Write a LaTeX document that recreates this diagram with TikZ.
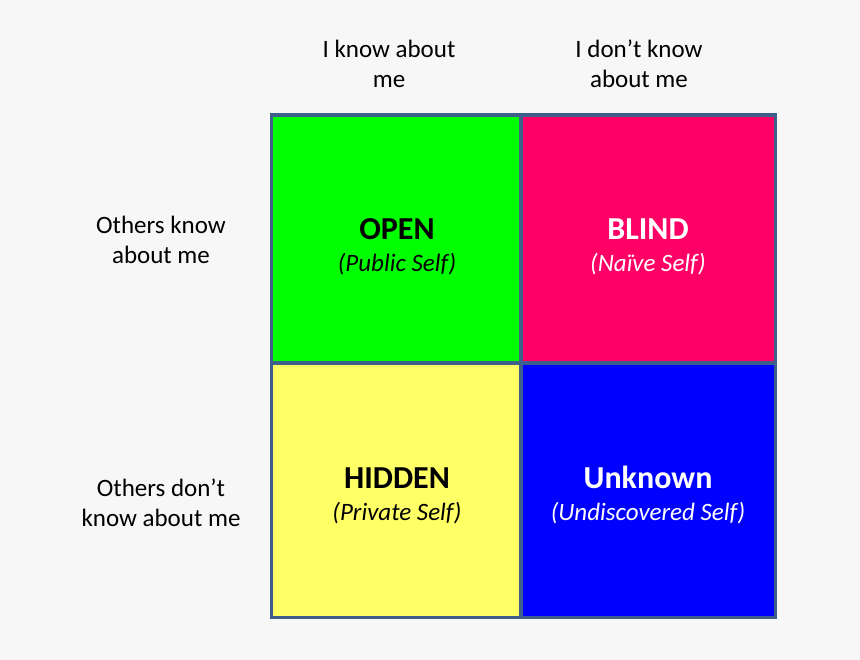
\documentclass[tikz,border=0pt]{standalone}
\usepackage{fontspec}
\setmainfont{Carlito}
\definecolor{bg}{HTML}{F7F7F7}
\definecolor{frame}{HTML}{3D5F8A}
\definecolor{cgreen}{HTML}{00FF00}
\definecolor{cpink}{HTML}{FF0066}
\definecolor{cyellow}{HTML}{FFFF66}
\definecolor{cblue}{HTML}{0000FF}
\begin{document}
\begin{tikzpicture}[x=1pt,y=-1pt,
  cell/.style={draw=frame,line width=3.5pt},
  lbl/.style={align=center,anchor=base,font=\fontsize{25}{30}\selectfont,text=black,inner sep=0pt},
  ttl/.style={anchor=base,font=\fontsize{32}{38}\selectfont\bfseries,inner sep=0pt},
  sub/.style={anchor=base,font=\fontsize{25}{30}\selectfont\itshape,inner sep=0pt}]
\useasboundingbox (0,0) rectangle (860,660);
\fill[bg] (0,0) rectangle (860,660);
% cells
\fill[cgreen] (271.5,115) rectangle (521,363);
\fill[cpink] (521,115) rectangle (775.7,363);
\fill[cyellow] (271.5,363) rectangle (521,617.7);
\fill[cblue] (521,363) rectangle (775.7,617.7);
\draw[cell] (271.5,115) rectangle (775.7,617.7);
\draw[cell] (521,115) -- (521,617.7);
\draw[cell] (271.5,363) -- (775.7,363);
% titles
\node[ttl] (open) at (397,240) {OPEN};
\node[sub] (opens) at (397,272) {(Public Self)};
\node[ttl,text=white] (blind) at (648,240) {BLIND};
\node[sub,text=white] (blinds) at (648,272) {(Naïve Self)};
\node[ttl] (hidden) at (397,488) {HIDDEN};
\node[sub] (hiddens) at (397,520) {(Private Self)};
\node[ttl,text=white] (unk) at (648,488) {Unknown};
\node[sub,text=white] (unks) at (648,520) {(Undiscovered Self)};
% axis labels
\node[lbl] (ik) at (389,88) {I know about\\me};
\node[lbl] (idk) at (639,88) {I don’t know\\about me};
\node[lbl] (ok) at (161,264) {Others know\\about me};
\node[lbl] (odk) at (161,526) {Others don’t\\know about me};
\end{tikzpicture}
\end{document}
